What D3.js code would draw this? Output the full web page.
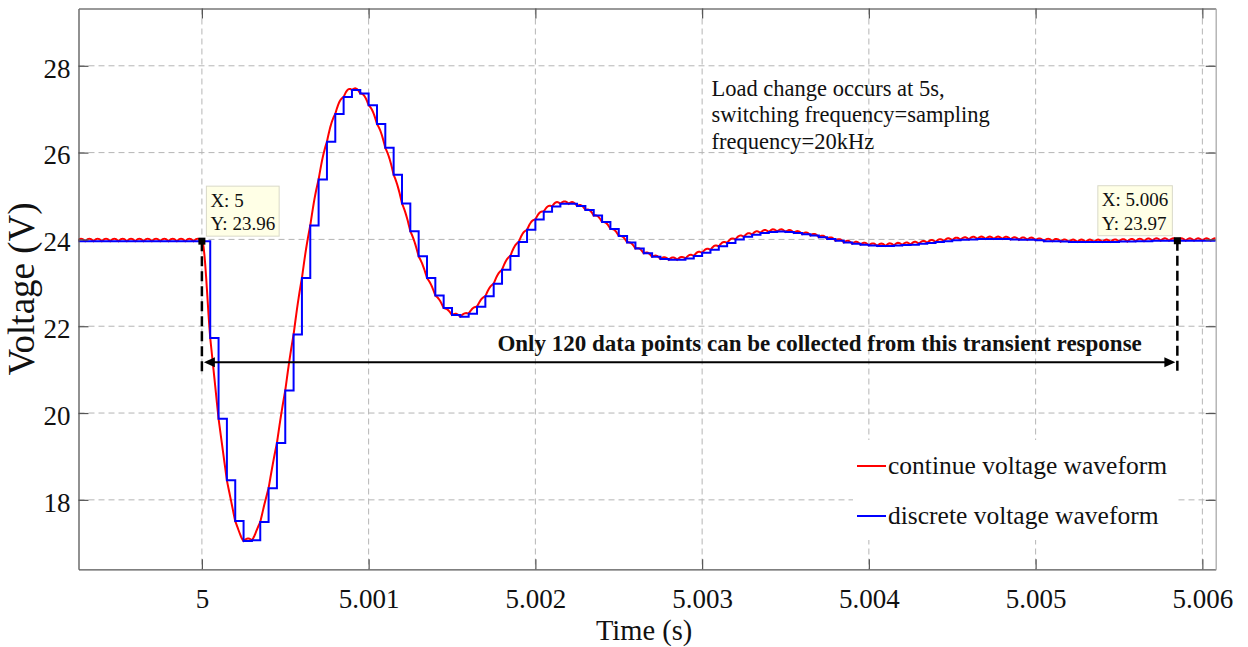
<!DOCTYPE html>
<html>
<head>
<meta charset="utf-8">
<script src="https://cdn.jsdelivr.net/npm/d3@7"></script>
<style>
  body { margin: 0; background: #fff; }
  svg { display: block; }
  text { font-family: "Times New Roman", "Liberation Serif", serif; fill: #111; }
</style>
</head>
<body>
<svg id="chart" width="1248" height="647"></svg>
<script>
// controller samples at 20 kHz
var samplePeriod = 0.00005;
var firstSampleTime = 4.99925;

// steady state before the load step
var preStepVoltage = [23.96, 23.96, 23.96, 23.96, 23.96, 23.96, 23.96, 23.96,
  23.96, 23.96, 23.96, 23.96, 23.96, 23.96, 23.96];

// sampled voltage from t = 5 s, one value per 50 us
var transientVoltage = [
  23.96, 21.73, 19.87, 18.45, 17.51, 17.05, 17.07, 17.49, 18.27, 19.31,
  20.52, 21.81, 23.11, 24.32, 25.38, 26.25, 26.89, 27.28, 27.44, 27.36,
  27.09, 26.66, 26.11, 25.49, 24.83, 24.19, 23.61, 23.11, 22.71, 22.42,
  22.26, 22.22, 22.29, 22.45, 22.69, 22.98, 23.30, 23.62, 23.94, 24.22,
  24.46, 24.64, 24.76, 24.82, 24.82, 24.77, 24.68, 24.55, 24.40, 24.24,
  24.08, 23.93, 23.79, 23.68, 23.60, 23.55, 23.53, 23.53, 23.56, 23.62,
  23.69, 23.76, 23.84, 23.92, 24.00, 24.06, 24.11, 24.15, 24.17, 24.18,
  24.17, 24.15, 24.12, 24.09, 24.05, 24.01, 23.97, 23.93, 23.90, 23.88,
  23.86, 23.85, 23.85, 23.86, 23.87, 23.88, 23.90, 23.92, 23.94, 23.96,
  23.98, 23.99, 24.00, 24.01, 24.01, 24.01, 24.01, 24.00, 23.99, 23.99,
  23.98, 23.96, 23.96, 23.95, 23.94, 23.94, 23.94, 23.94, 23.94, 23.94,
  23.95, 23.95, 23.96, 23.96, 23.97, 23.97, 23.97, 23.97, 23.97, 23.97,
  23.97, 23.97, 23.97
];

var xTicks = [5, 5.001, 5.002, 5.003, 5.004, 5.005, 5.006];
var xTickLabels = ["5", "5.001", "5.002", "5.003", "5.004", "5.005", "5.006"];
var yTicks = [18, 20, 22, 24, 26, 28];

var legendLabels = ["continue voltage waveform", "discrete voltage waveform"];
var seriesColors = ["#ff0000", "#0000ff"];

var noteLines = ["Load change occurs at 5s,", "switching frequency=sampling", "frequency=20kHz"];

var dataTips = [
  { x: 5, y: 23.96, lines: ["X: 5", "Y: 23.96"], side: "right" },
  { x: 5.00585, y: 23.97, lines: ["X: 5.006", "Y: 23.97"], side: "left" }
];
var spanText = "Only 120 data points can be collected from this transient response";
var arrowLevel = 21.17;
var dashBottom = 20.87;

var svg = d3.select("#chart");
var plotLeft = 78.5, plotRight = 1215.7, plotTop = 8.5, plotBottom = 569.3;

var x = d3.scaleLinear().domain([4.99926, 5.00608]).range([plotLeft, plotRight]);
var y = d3.scaleLinear().domain([16.4, 29.32]).range([plotBottom, plotTop]);

var allVoltage = preStepVoltage.concat(transientVoltage);
var samples = allVoltage.map(function (v, i) {
  return { t: firstSampleTime + i * samplePeriod, v: v };
});

svg.append("defs").append("clipPath").attr("id", "plotClip")
  .append("rect").attr("x", plotLeft).attr("y", plotTop)
  .attr("width", plotRight - plotLeft).attr("height", plotBottom - plotTop);

// grid
var grid = svg.append("g").attr("stroke", "#b5b5b5").attr("stroke-width", 1)
  .attr("stroke-dasharray", "6,4");
grid.selectAll(".gx").data(xTicks).join("line").attr("class", "gx")
  .attr("x1", function (d) { return x(d); }).attr("x2", function (d) { return x(d); })
  .attr("y1", plotTop).attr("y2", plotBottom);
grid.selectAll(".gy").data(yTicks).join("line").attr("class", "gy")
  .attr("y1", function (d) { return y(d); }).attr("y2", function (d) { return y(d); })
  .attr("x1", plotLeft).attr("x2", plotRight);

// continuous waveform: monotone cubic through the samples plus the switching ripple humps
function rippleLine(pts, bulge) {
  var n = pts.length, h = pts[1][0] - pts[0][0];
  var d = [], m = [], out = [];
  for (var i = 0; i < n - 1; i++) d.push((pts[i + 1][1] - pts[i][1]) / h);
  for (i = 0; i < n; i++) {
    if (i === 0) m.push(d[0]);
    else if (i === n - 1) m.push(d[n - 2]);
    else {
      var a = d[i - 1], b = d[i];
      m.push(a * b <= 0 ? 0 : (Math.sign(a) + Math.sign(b)) *
        Math.min(Math.abs(a), Math.abs(b), 0.25 * Math.abs(a + b)));
    }
  }
  var steps = 10;
  for (i = 0; i < n - 1; i++) {
    for (var j = (i === 0 ? 0 : 1); j <= steps; j++) {
      var s = j / steps, s2 = s * s, s3 = s2 * s;
      var yy = (2 * s3 - 3 * s2 + 1) * pts[i][1] + (s3 - 2 * s2 + s) * h * m[i] +
        (-2 * s3 + 3 * s2) * pts[i + 1][1] + (s3 - s2) * h * m[i + 1];
      out.push([pts[i][0] + s * h, yy - bulge * Math.sin(Math.PI * s)]);
    }
  }
  return d3.line()(out);
}

var plot = svg.append("g").attr("clip-path", "url(#plotClip)");
var pixelPts = samples.map(function (d) { return [x(d.t), y(d.v)]; });
plot.append("path").attr("d", rippleLine(pixelPts, 2.4))
  .attr("fill", "none").attr("stroke", seriesColors[0]).attr("stroke-width", 2);

plot.append("path").datum(samples)
  .attr("d", d3.line().curve(d3.curveStepAfter)
    .x(function (d) { return x(d.t); }).y(function (d) { return y(d.v); }))
  .attr("fill", "none").attr("stroke", seriesColors[1]).attr("stroke-width", 2);

// axes
function styleAxis(g, color) {
  g.select(".domain").attr("stroke", color).attr("stroke-width", 1.3);
  g.selectAll(".tick line").attr("stroke", "#555").attr("stroke-width", 1.2);
  g.selectAll(".tick text").attr("fill", "#222").attr("font-size", 27)
    .attr("font-family", "\"Times New Roman\", \"Liberation Serif\", serif");
}
svg.append("g").attr("transform", "translate(0," + plotBottom + ")")
  .call(d3.axisBottom(x).tickValues(xTicks).tickSize(-10).tickSizeOuter(0).tickPadding(20)
    .tickFormat(function (d, i) { return xTickLabels[i]; }))
  .call(styleAxis, "#555");
svg.append("g").attr("transform", "translate(" + plotLeft + ",0)")
  .call(d3.axisLeft(y).tickValues(yTicks).tickSize(-10).tickSizeOuter(0).tickPadding(8)
    .tickFormat(d3.format("d")))
  .call(styleAxis, "#555")
  .selectAll(".tick text").attr("dy", "0.42em");
svg.append("g").attr("transform", "translate(0," + plotTop + ")")
  .call(d3.axisTop(x).tickValues(xTicks).tickSize(-10).tickSizeOuter(0).tickFormat(""))
  .call(styleAxis, "#777");
svg.append("g").attr("transform", "translate(" + plotRight + ",0)")
  .call(d3.axisRight(y).tickValues(yTicks).tickSize(-10).tickSizeOuter(0).tickFormat(""))
  .call(styleAxis, "#aaa");

// axis titles
svg.append("text").attr("x", (plotLeft + plotRight) / 2 - 3).attr("y", 640)
  .attr("text-anchor", "middle").attr("font-size", 28.5).text("Time (s)");
svg.append("text").attr("transform", "translate(34," + (plotTop + plotBottom) / 2 + ") rotate(-90)")
  .attr("text-anchor", "middle").attr("font-size", 37).text("Voltage (V)");

// note
svg.append("g").selectAll("text").data(noteLines).join("text")
  .attr("x", 711.5).attr("y", function (d, i) { return 96 + i * 26.3; })
  .attr("font-size", 22.5).text(function (d) { return d; });

// span markers and arrow
var ann = svg.append("g");
dataTips.forEach(function (tip) {
  ann.append("line")
    .attr("x1", x(tip.x)).attr("x2", x(tip.x))
    .attr("y1", y(tip.y)).attr("y2", y(dashBottom))
    .attr("stroke", "#000").attr("stroke-width", 2.5).attr("stroke-dasharray", "10,5");
});
var ax1 = x(dataTips[0].x) + 2, ax2 = x(dataTips[1].x) - 2, ay = y(arrowLevel);
ann.append("line").attr("x1", ax1 + 8).attr("x2", ax2 - 8).attr("y1", ay).attr("y2", ay)
  .attr("stroke", "#000").attr("stroke-width", 2.2);
ann.append("path").attr("d", d3.line()([[ax1, ay], [ax1 + 11, ay - 5], [ax1 + 11, ay + 5]]) + "Z")
  .attr("fill", "#000");
ann.append("path").attr("d", d3.line()([[ax2, ay], [ax2 - 11, ay - 5], [ax2 - 11, ay + 5]]) + "Z")
  .attr("fill", "#000");
ann.append("text").attr("x", (ax1 + ax2) / 2 + 130).attr("y", 351)
  .attr("text-anchor", "middle").attr("font-size", 23).attr("font-weight", "bold")
  .text(spanText);

// data tips
dataTips.forEach(function (tip) {
  var px = x(tip.x), py = y(tip.y);
  var g = svg.append("g");
  var box = g.append("rect").attr("fill", "#ffffe6").attr("stroke", "#d9d9c8").attr("stroke-width", 1);
  var texts = g.selectAll("text").data(tip.lines).join("text")
    .attr("font-size", 19).text(function (d) { return d; });
  var w = d3.max(texts.nodes(), function (n) { return n.getComputedTextLength(); }) + 8;
  var bx = tip.side === "right" ? px + 4.5 : px - 5 - w;
  var by = py - 55;
  box.attr("x", bx).attr("y", by).attr("width", w).attr("height", 50);
  texts.attr("x", bx + 4).attr("y", function (d, i) { return by + 20.5 + i * 23.3; });
  g.append("rect").attr("x", px - 3.5).attr("y", py - 3.5).attr("width", 7).attr("height", 7)
    .attr("fill", "#000");
});

// legend
var lg = svg.append("g");
lg.append("rect").attr("x", 853).attr("y", 440).attr("width", 322).attr("height", 100).attr("fill", "#fff");
legendLabels.forEach(function (label, i) {
  var ly = 466 + i * 50;
  lg.append("line").attr("x1", 857).attr("x2", 886).attr("y1", ly).attr("y2", ly)
    .attr("stroke", seriesColors[i]).attr("stroke-width", 2);
  lg.append("text").attr("x", 888).attr("y", ly + 8).attr("font-size", 25.5).text(label);
});
</script>
</body>
</html>
